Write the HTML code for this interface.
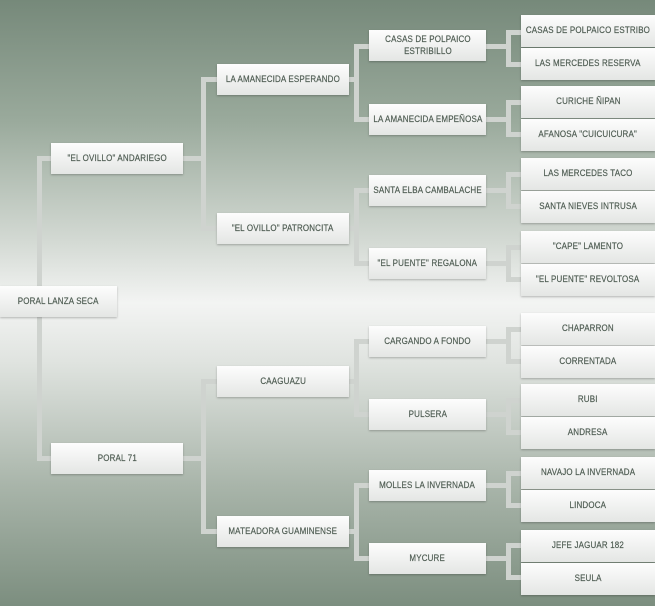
<!DOCTYPE html>
<html><head><meta charset="utf-8"><style>
*{margin:0;padding:0;box-sizing:border-box}
body{width:655px;height:606px;overflow:hidden;position:relative;
background:linear-gradient(to bottom,#76897a 0%,#9aaa9c 20%,#d4dad4 40%,#f3f4f3 50%,#dfe3df 60%,#a9b5aa 80%,#7c8e7f 100%);
font-family:"Liberation Sans",sans-serif}
.b{position:absolute;display:flex;align-items:center;justify-content:center;text-align:center;white-space:nowrap;
background:linear-gradient(to bottom,#fdfdfd,#e4e6e4);color:#4e5c52;font-size:9.5px;line-height:12px;
box-shadow:0 1px 2px rgba(0,0,0,.25);letter-spacing:.2px}
.b span{display:inline-block;transform:scaleX(.84);-webkit-text-stroke:.2px #4e5c52}
.l{position:absolute;background:#cfd3cf}
</style></head><body>
<div class="l" style="left:37px;top:156px;width:5px;height:304px"></div>
<div class="l" style="left:37px;top:156px;width:16px;height:5px"></div>
<div class="l" style="left:37px;top:456px;width:16px;height:5px"></div>
<div class="l" style="left:183px;top:156px;width:20px;height:5px"></div>
<div class="l" style="left:201px;top:77px;width:5px;height:153px"></div>
<div class="l" style="left:201px;top:77px;width:16px;height:5px"></div>
<div class="l" style="left:201px;top:226px;width:16px;height:5px"></div>
<div class="l" style="left:183px;top:456px;width:20px;height:5px"></div>
<div class="l" style="left:201px;top:379px;width:5px;height:153px"></div>
<div class="l" style="left:201px;top:379px;width:16px;height:5px"></div>
<div class="l" style="left:201px;top:529px;width:16px;height:5px"></div>
<div class="l" style="left:349px;top:77px;width:8px;height:5px"></div>
<div class="l" style="left:354px;top:44px;width:5px;height:78px"></div>
<div class="l" style="left:354px;top:44px;width:16px;height:5px"></div>
<div class="l" style="left:354px;top:117px;width:16px;height:5px"></div>
<div class="l" style="left:349px;top:226px;width:8px;height:5px"></div>
<div class="l" style="left:354px;top:188px;width:5px;height:78px"></div>
<div class="l" style="left:354px;top:188px;width:16px;height:5px"></div>
<div class="l" style="left:354px;top:261px;width:16px;height:5px"></div>
<div class="l" style="left:349px;top:379px;width:8px;height:5px"></div>
<div class="l" style="left:354px;top:339px;width:5px;height:78px"></div>
<div class="l" style="left:354px;top:339px;width:16px;height:5px"></div>
<div class="l" style="left:354px;top:412px;width:16px;height:5px"></div>
<div class="l" style="left:349px;top:529px;width:8px;height:5px"></div>
<div class="l" style="left:354px;top:483px;width:5px;height:78px"></div>
<div class="l" style="left:354px;top:483px;width:16px;height:5px"></div>
<div class="l" style="left:354px;top:556px;width:16px;height:5px"></div>
<div class="l" style="left:486px;top:44px;width:24px;height:5px"></div><div class="l" style="left:506px;top:30px;width:5px;height:36px"></div><div class="l" style="left:506px;top:30px;width:16px;height:5px"></div><div class="l" style="left:506px;top:62px;width:16px;height:5px"></div>
<div class="l" style="left:486px;top:117px;width:24px;height:5px"></div><div class="l" style="left:506px;top:100px;width:5px;height:36px"></div><div class="l" style="left:506px;top:100px;width:16px;height:5px"></div><div class="l" style="left:506px;top:132px;width:16px;height:5px"></div>
<div class="l" style="left:486px;top:188px;width:24px;height:5px"></div><div class="l" style="left:506px;top:172px;width:5px;height:36px"></div><div class="l" style="left:506px;top:172px;width:16px;height:5px"></div><div class="l" style="left:506px;top:204px;width:16px;height:5px"></div>
<div class="l" style="left:486px;top:261px;width:24px;height:5px"></div><div class="l" style="left:506px;top:245px;width:5px;height:36px"></div><div class="l" style="left:506px;top:245px;width:16px;height:5px"></div><div class="l" style="left:506px;top:277px;width:16px;height:5px"></div>
<div class="l" style="left:486px;top:339px;width:24px;height:5px"></div><div class="l" style="left:506px;top:327px;width:5px;height:36px"></div><div class="l" style="left:506px;top:327px;width:16px;height:5px"></div><div class="l" style="left:506px;top:359px;width:16px;height:5px"></div>
<div class="l" style="left:486px;top:412px;width:24px;height:5px"></div><div class="l" style="left:506px;top:398px;width:5px;height:36px"></div><div class="l" style="left:506px;top:398px;width:16px;height:5px"></div><div class="l" style="left:506px;top:430px;width:16px;height:5px"></div>
<div class="l" style="left:486px;top:483px;width:24px;height:5px"></div><div class="l" style="left:506px;top:471px;width:5px;height:36px"></div><div class="l" style="left:506px;top:471px;width:16px;height:5px"></div><div class="l" style="left:506px;top:503px;width:16px;height:5px"></div>
<div class="l" style="left:486px;top:556px;width:24px;height:5px"></div><div class="l" style="left:506px;top:543px;width:5px;height:36px"></div><div class="l" style="left:506px;top:543px;width:16px;height:5px"></div><div class="l" style="left:506px;top:575px;width:16px;height:5px"></div>

<div class="b" style="left:0;top:286px;width:117px;height:31px"><span>PORAL LANZA SECA</span></div>
<div class="b" style="left:51px;top:143px;width:132px;height:31px"><span>"EL OVILLO" ANDARIEGO</span></div>
<div class="b" style="left:51px;top:443px;width:132px;height:31px"><span>PORAL 71</span></div>

<div class="b" style="left:217px;top:64px;width:132px;height:31px"><span>LA AMANECIDA ESPERANDO</span></div>
<div class="b" style="left:217px;top:213px;width:132px;height:31px"><span>"EL OVILLO" PATRONCITA</span></div>
<div class="b" style="left:217px;top:366px;width:132px;height:31px"><span>CAAGUAZU</span></div>
<div class="b" style="left:217px;top:516px;width:132px;height:31px"><span>MATEADORA GUAMINENSE</span></div>

<div class="b" style="left:369px;top:30px;width:117px;height:31px"><span>CASAS DE POLPAICO<br>ESTRIBILLO</span></div>
<div class="b" style="left:369px;top:104px;width:117px;height:31px"><span>LA AMANECIDA EMPEÑOSA</span></div>
<div class="b" style="left:369px;top:175px;width:117px;height:31px"><span>SANTA ELBA CAMBALACHE</span></div>
<div class="b" style="left:369px;top:248px;width:117px;height:31px"><span>"EL PUENTE" REGALONA</span></div>
<div class="b" style="left:369px;top:326px;width:117px;height:31px"><span>CARGANDO A FONDO</span></div>
<div class="b" style="left:369px;top:399px;width:117px;height:31px"><span>PULSERA</span></div>
<div class="b" style="left:369px;top:470px;width:117px;height:31px"><span>MOLLES LA INVERNADA</span></div>
<div class="b" style="left:369px;top:543px;width:117px;height:31px"><span>MYCURE</span></div>

<div class="b" style="left:521px;top:15px;width:134px;height:32px"><span>CASAS DE POLPAICO ESTRIBO</span></div>
<div class="b" style="left:521px;top:48px;width:134px;height:32px"><span>LAS MERCEDES RESERVA</span></div>
<div class="b" style="left:521px;top:86px;width:134px;height:32px"><span>CURICHE ÑIPAN</span></div>
<div class="b" style="left:521px;top:119px;width:134px;height:32px"><span>AFANOSA "CUICUICURA"</span></div>
<div class="b" style="left:521px;top:158px;width:134px;height:32px"><span>LAS MERCEDES TACO</span></div>
<div class="b" style="left:521px;top:191px;width:134px;height:32px"><span>SANTA NIEVES INTRUSA</span></div>
<div class="b" style="left:521px;top:231px;width:134px;height:32px"><span>"CAPE" LAMENTO</span></div>
<div class="b" style="left:521px;top:264px;width:134px;height:32px"><span>"EL PUENTE" REVOLTOSA</span></div>
<div class="b" style="left:521px;top:313px;width:134px;height:32px"><span>CHAPARRON</span></div>
<div class="b" style="left:521px;top:346px;width:134px;height:32px"><span>CORRENTADA</span></div>
<div class="b" style="left:521px;top:384px;width:134px;height:32px"><span>RUBI</span></div>
<div class="b" style="left:521px;top:417px;width:134px;height:32px"><span>ANDRESA</span></div>
<div class="b" style="left:521px;top:457px;width:134px;height:32px"><span>NAVAJO LA INVERNADA</span></div>
<div class="b" style="left:521px;top:490px;width:134px;height:32px"><span>LINDOCA</span></div>
<div class="b" style="left:521px;top:530px;width:134px;height:32px"><span>JEFE JAGUAR 182</span></div>
<div class="b" style="left:521px;top:563px;width:134px;height:32px"><span>SEULA</span></div>
</body></html>
